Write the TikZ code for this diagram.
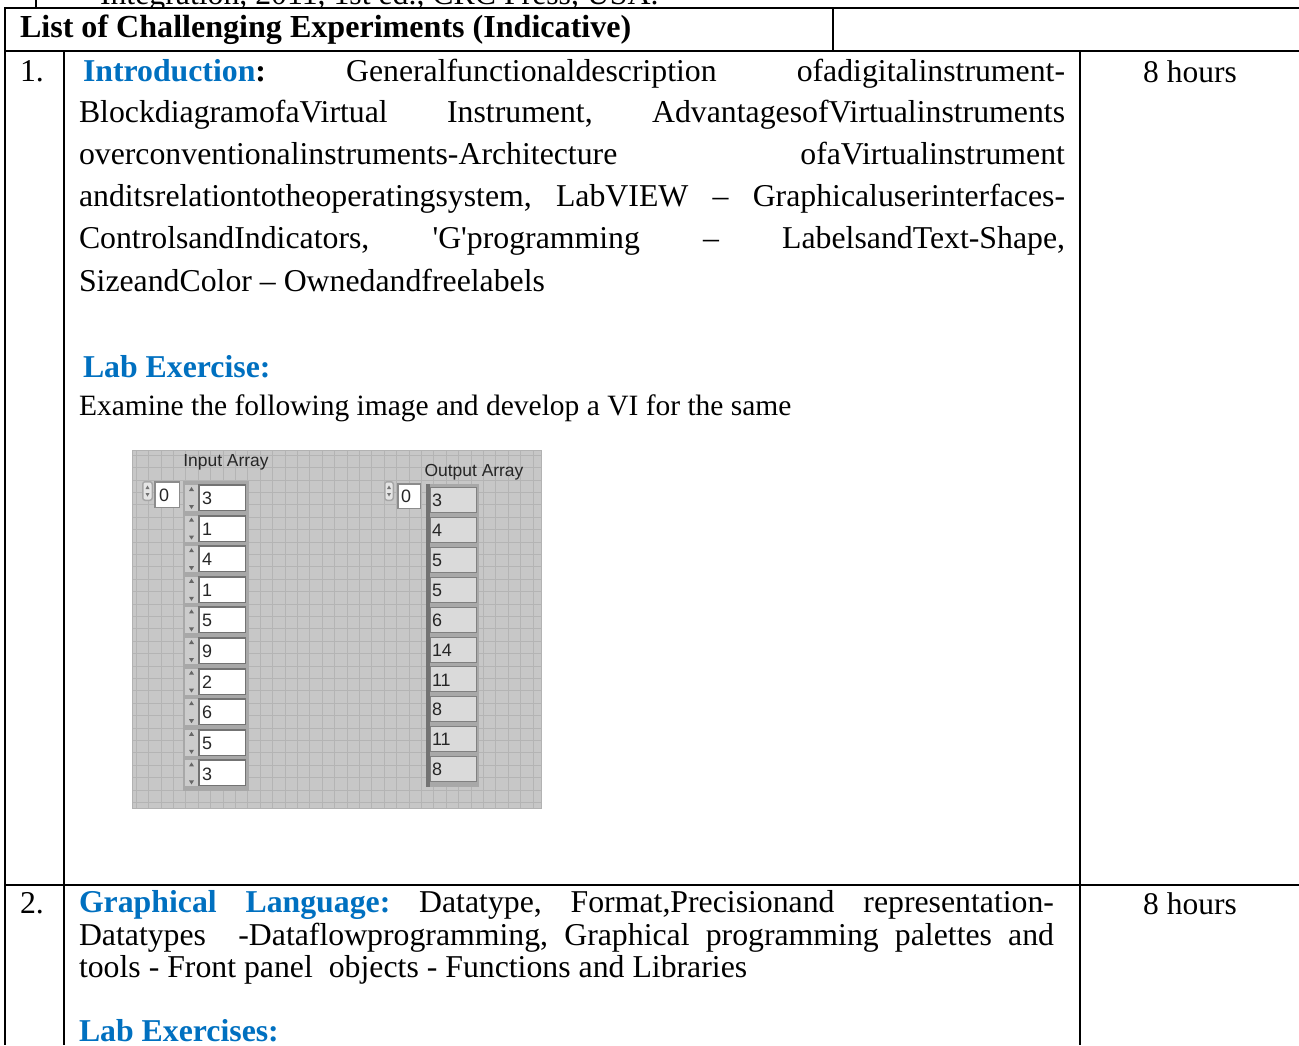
\documentclass[tikz,border=0pt]{standalone}
\usepackage{fontspec}
\setmainfont{Liberation Serif}
\newfontfamily\lvfont{Liberation Sans}
\definecolor{myblue}{HTML}{0070C0}
\definecolor{lvbg}{HTML}{C7C7C7}
\definecolor{lvgrid}{HTML}{B4B4B4}
\definecolor{lvframe}{HTML}{A8A8A8}
\definecolor{lvind}{HTML}{DADADA}
\newcommand\jline[2]{\makebox[#1][s]{#2}}
\frenchspacing
\begin{document}
\begin{tikzpicture}[x=1bp,y=-1bp,
  every node/.style={inner sep=0pt,outer sep=0pt},
  txt/.style={anchor=base west,font=\fontsize{31.9}{36}\selectfont\frenchspacing},
  hdr/.style={anchor=base west,font=\fontsize{32.2}{36}\selectfont\bfseries\frenchspacing},
  txts/.style={anchor=base west,font=\fontsize{29.6}{34}\selectfont\frenchspacing},
  hrs/.style={anchor=base,font=\fontsize{31.6}{36}\selectfont},
  hline/.style={line width=2.6bp},
  vline/.style={line width=1.8bp},
  lvlab/.style={font=\lvfont\fontsize{17.5}{19}\selectfont,text=black!85},
  lvnum/.style={anchor=west,font=\lvfont\fontsize{18}{19}\selectfont,text=black!85},
  lvgridline/.style={draw=lvgrid,line width=0.6bp}]
\useasboundingbox (0,0) rectangle (1299,1045);
\fill[white] (0,0) rectangle (1299,1045);

% cut-off previous line
\begin{scope}
\clip (0,0) rectangle (1299,7);
\node[txt] (prev) at (100,4.5) {Integration, 2011, 1st ed., CRC Press, USA.};
\end{scope}

% table rules
\draw[vline] (36,0) -- (36,8);
\draw[hline] (4,8) -- (1299,8);
\draw[hline] (4,51) -- (1299,51);
\draw[hline] (4,885) -- (1299,885);
\draw[vline] (5,7) -- (5,1045);
\draw[vline] (833,8) -- (833,51);
\draw[vline] (64,51) -- (64,1045);
\draw[vline] (1080,51) -- (1080,1045);

% header
\node[hdr] (head) at (20,37) {List of Challenging Experiments (Indicative)};

% row 1
\node[txt] (n1) at (20,81) {1.};
\node[hrs] (h1) at (1190,82) {8 hours};
\node[txt] (r1a) at (83,81) {\jline{982bp}{{\bfseries\color{myblue}Introduction}{\bfseries :} Generalfunctionaldescription ofadigitalinstrument-}};
\node[txt] (r1b) at (79,122) {\jline{986bp}{BlockdiagramofaVirtual Instrument, AdvantagesofVirtualinstruments}};
\node[txt] (r1c) at (79,164) {\jline{986bp}{overconventionalinstruments-Architecture ofaVirtualinstrument}};
\node[txt] (r1d) at (79,206) {\jline{986bp}{anditsrelationtotheoperatingsystem, LabVIEW – Graphicaluserinterfaces-}};
\node[txt] (r1e) at (79,248) {\jline{986bp}{ControlsandIndicators, \textquotesingle G\textquotesingle programming – LabelsandText-Shape,}};
\node[txt] (r1f) at (79,291) {SizeandColor – Ownedandfreelabels};
\node[txt] (lab1) at (83,377) {\bfseries\color{myblue}Lab Exercise:};
\node[txts] (exam) at (79,415) {Examine the following image and develop a VI for the same};

% LabVIEW front panel picture
\fill[lvbg] (132,450) rectangle (541,808);
\foreach \gx in {0,...,32} \draw[lvgridline] ({136+\gx*12.4},450) -- ({136+\gx*12.4},808);
\foreach \gy in {0,...,28} \draw[lvgridline] (132,{455+\gy*12.4}) -- (541,{455+\gy*12.4});
\draw[black!30,line width=0.8bp] (132,450) rectangle (541,808);
\node[lvlab] (inlab) at (226,462) {Input Array};
\node[lvlab] (outlab) at (474,472) {Output Array};

% input index control
\fill[black!35,rounded corners=3bp] (142,481) rectangle (153,501);
\fill[black!10,rounded corners=2bp] (143.5,482.5) rectangle (151.5,499.5);
\fill[black!55] (145.5,489) -- (149.5,489) -- (147.5,485.5) -- cycle;
\fill[black!55] (145.5,493) -- (149.5,493) -- (147.5,496.5) -- cycle;
\fill[black!45] (154,481) rectangle (180,508);
\fill[white] (156,483) rectangle (179,507);
\node[lvnum] (inidx) at (159,495) {0};

% input array column
\fill[lvframe] (183,481) rectangle (249,791);
\foreach \v [count=\i from 0] in {3,1,4,1,5,9,2,6,5,3} {
  \pgfmathsetmacro\yy{485+30.6*\i}
  \fill[black!20] (185,\yy) rectangle (198,\yy+26);
  \fill[black!60] (189,\yy+6) -- (194,\yy+6) -- (191.5,\yy+2) -- cycle;
  \fill[black!60] (189,\yy+20) -- (194,\yy+20) -- (191.5,\yy+24) -- cycle;
  \fill[black!55] (198,\yy-1) rectangle (246,\yy+26);
  \fill[white] (200,\yy+1) rectangle (245,\yy+25);
  \node[lvnum] (in\i) at (202,\yy+13.5) {\v};
}

% output index control
\fill[black!35,rounded corners=3bp] (384,481) rectangle (394,501);
\fill[black!10,rounded corners=2bp] (385.5,482.5) rectangle (392.5,499.5);
\fill[black!55] (387,489) -- (391,489) -- (389,485.5) -- cycle;
\fill[black!55] (387,493) -- (391,493) -- (389,496.5) -- cycle;
\fill[black!45] (397,483) rectangle (421,509);
\fill[white] (399,485) rectangle (420,508);
\node[lvnum] (outidx) at (401,496.5) {0};

% output array column
\fill[lvframe] (426,484) rectangle (479,787);
\fill[black!55] (426,484) rectangle (430,787);
\foreach \v [count=\i from 0] in {3,4,5,5,6,14,11,8,11,8} {
  \pgfmathsetmacro\yy{488+29.9*\i}
  \fill[black!50] (430,\yy-1) rectangle (477,\yy+25);
  \fill[lvind] (431,\yy) rectangle (476,\yy+24);
  \node[lvnum] (out\i) at (432,\yy+12.5) {\v};
}

% row 2
\node[txt] (n2) at (20,913) {2.};
\node[hrs] (h2) at (1190,914) {8 hours};
\node[txt] (r2a) at (79,912) {\jline{975bp}{{\bfseries\color{myblue}Graphical Language:} Datatype, Format,Precisionand representation-}};
\node[txt] (r2b) at (79,945) {\jline{975bp}{Datatypes \ -Dataflowprogramming, Graphical programming palettes and}};
\node[txt] (r2c) at (79,977) {tools - Front panel~ objects - Functions and Libraries};
\node[txt] (lab2) at (79,1041) {\bfseries\color{myblue}Lab Exercises:};
\end{tikzpicture}
\end{document}
